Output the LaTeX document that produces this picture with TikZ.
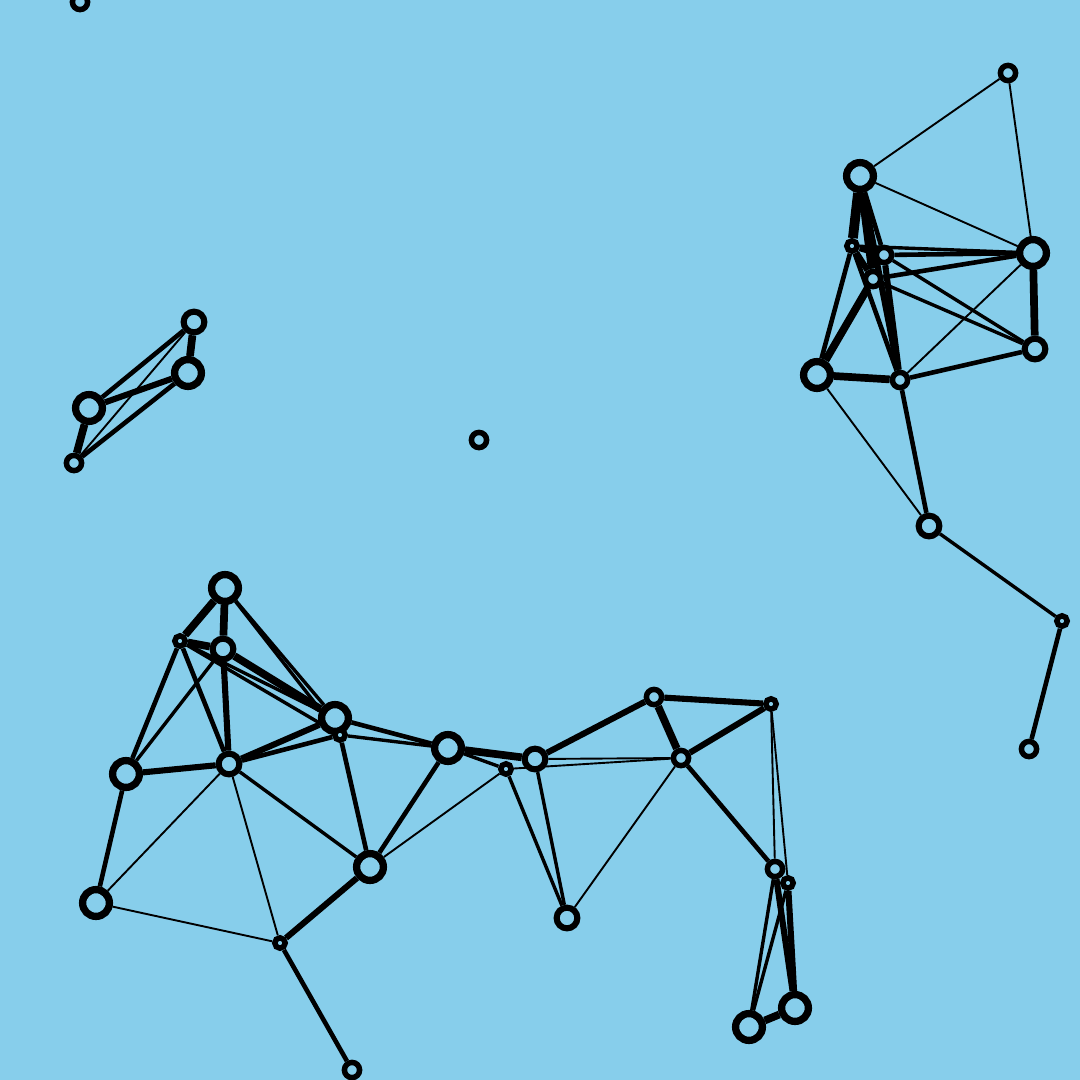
\documentclass[tikz,border=0pt]{standalone}
\definecolor{bgc}{HTML}{87CEEB}
\pgfdeclarelayer{bgl}
\pgfdeclarelayer{edges}
\pgfsetlayers{bgl,edges,main}
\tikzset{
  vx/.style={circle,draw=black,fill=bgc,inner sep=0pt},
  vL/.style={vx,line width=7.3pt,minimum size=26.8pt},
  vM/.style={vx,line width=6.1pt,minimum size=20.7pt},
  vS/.style={vx,line width=5.5pt,minimum size=15.2pt},
  vXS/.style={vx,line width=5.5pt,minimum size=10.4pt},
  e1/.style={line width=1.9pt},
  e2/.style={line width=3.4pt},
  e3/.style={line width=4.6pt},
  e4/.style={line width=6.1pt},
  e5/.style={line width=7.7pt},
  e6/.style={line width=9.8pt},
}
\begin{document}
\begin{tikzpicture}[x=1pt,y=-1pt]
\begin{pgfonlayer}{bgl}
\fill[bgc] (0,0) rectangle (1080,1080);
\end{pgfonlayer}
\useasboundingbox (0,0) rectangle (1080,1080);
% nodes
\node[vS] (n0) at (80,2) {};
\node[vS] (n1) at (1008,73) {};
\node[vL] (n2) at (860,176) {};
\node[vXS] (n3) at (852,246) {};
\node[vS] (n4) at (884,255) {};
\node[vS] (n5) at (873,279) {};
\node[vL] (n6) at (1033,253) {};
\node[vM] (n7) at (1035,349) {};
\node[vL] (n8) at (817,375) {};
\node[vS] (n9) at (900,380) {};
\node[vM] (n10) at (929,526) {};
\node[vXS] (n11) at (1062,621) {};
\node[vS] (n12) at (1029,749) {};
\node[vM] (n13) at (194,322) {};
\node[vL] (n14) at (188,373) {};
\node[vL] (n15) at (89,408) {};
\node[vS] (n16) at (74,463) {};
\node[vS] (n17) at (479,440) {};
\node[vL] (n18) at (225,588) {};
\node[vXS] (n19) at (180,641) {};
\node[vM] (n20) at (223,649) {};
\node[vL] (n21) at (335,718) {};
\node[vXS] (n22) at (340,735) {};
\node[vL] (n23) at (448,748) {};
\node[vXS] (n24) at (506,769) {};
\node[vM] (n25) at (535,759) {};
\node[vS] (n26) at (654,697) {};
\node[vXS] (n27) at (771,704) {};
\node[vS] (n28) at (681,758) {};
\node[vL] (n29) at (126,774) {};
\node[vM] (n30) at (229,764) {};
\node[vL] (n31) at (370,867) {};
\node[vL] (n32) at (96,903) {};
\node[vXS] (n33) at (280,943) {};
\node[vS] (n34) at (352,1070) {};
\node[vM] (n35) at (567,918) {};
\node[vS] (n36) at (775,869) {};
\node[vXS] (n37) at (788,883) {};
\node[vL] (n38) at (795,1008) {};
\node[vL] (n39) at (749,1027) {};
\begin{pgfonlayer}{edges}
% top-right cluster
\draw[e1] (n1)--(n2); \draw[e1] (n1)--(n6); \draw[e1] (n2)--(n6);
\draw[e6] (n2)--(n3); \draw[e5] (n2)--(n5); \draw[e4] (n2)--(n9); \draw[e3] (n2)--(n4);
\draw[e4] (n3)--(n4); \draw[e2] (n3)--(n6); \draw[e3] (n3)--(n8); \draw[e3] (n3)--(n9); \draw[e4] (n3)--(n5);
\draw[e3] (n4)--(n6); \draw[e2] (n4)--(n7); \draw[e4] (n4)--(n9);
\draw[e3] (n5)--(n6); \draw[e2] (n5)--(n7); \draw[e5] (n5)--(n8);
\draw[e5] (n6)--(n7); \draw[e1] (n6)--(n9);
\draw[e3] (n7)--(n9); \draw[e5] (n8)--(n9);
\draw[e1] (n8)--(n10); \draw[e3] (n9)--(n10);
\draw[e2] (n10)--(n11); \draw[e3] (n11)--(n12);
% left cluster
\draw[e5] (n13)--(n14); \draw[e3] (n13)--(n15); \draw[e1] (n13)--(n16);
\draw[e4] (n14)--(n15); \draw[e3] (n14)--(n16); \draw[e5] (n15)--(n16);
% bottom-left cluster
\draw[e5] (n18)--(n19); \draw[e5] (n18)--(n20); \draw[e2] (n18)--(n21); \draw[e2] (n18)--(n22);
\draw[e5] (n19)--(n20); \draw[e2] (n19)--(n21); \draw[e2] (n19)--(n22);
\draw[e3] (n19)--(n29); \draw[e3] (n19)--(n30);
\draw[e5] (n20)--(n21); \draw[e4] (n20)--(n30); \draw[e2] (n20)--(n29);
\draw[e3] (n21)--(n23); \draw[e4] (n21)--(n30);
\draw[e3] (n22)--(n30); \draw[e3] (n22)--(n31); \draw[e2] (n22)--(n23);
\draw[e5] (n23)--(n25); \draw[e2] (n23)--(n24); \draw[e3] (n23)--(n31);
\draw[e1] (n24)--(n31); \draw[e2] (n24)--(n35); \draw[e1] (n24)--(n28);
\draw[e2] (n25)--(n35); \draw[e4] (n25)--(n26); \draw[e1] (n25)--(n28);
\draw[e5] (n26)--(n28); \draw[e4] (n26)--(n27); \draw[e4] (n27)--(n28);
\draw[e1] (n27)--(n36); \draw[e1] (n27)--(n37);
\draw[e1] (n28)--(n35); \draw[e3] (n28)--(n36);
\draw[e4] (n29)--(n30); \draw[e3] (n29)--(n32);
\draw[e1] (n30)--(n32); \draw[e1] (n30)--(n33); \draw[e2] (n30)--(n31);
\draw[e4] (n31)--(n33); \draw[e1] (n32)--(n33); \draw[e3] (n33)--(n34);
\draw[e4] (n36)--(n38); \draw[e4] (n37)--(n38);
\draw[e2] (n36)--(n39); \draw[e2] (n37)--(n39); \draw[e5] (n38)--(n39);
\end{pgfonlayer}
\end{tikzpicture}
\end{document}
